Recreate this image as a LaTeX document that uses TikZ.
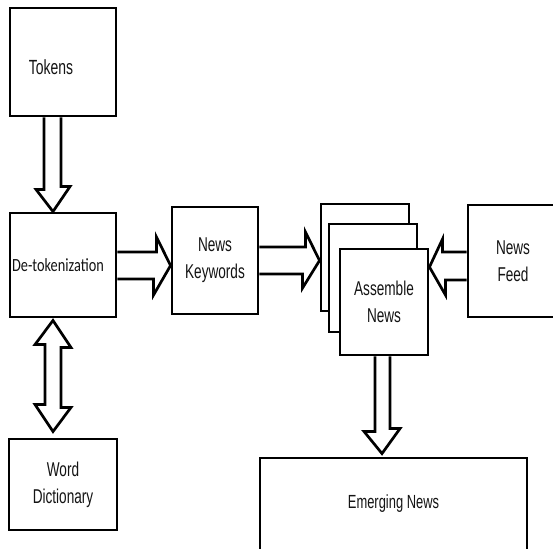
\documentclass[tikz,border=0pt]{standalone}
\usepackage{fontspec}
\setmainfont{Liberation Sans}[FakeStretch=0.68]
\newfontfamily\calfont{Carlito}[FakeStretch=0.77]
\begin{document}
\begin{tikzpicture}[x=1pt,y=-1pt,
  box/.style={draw, line width=2.9pt, fill=white, inner sep=0pt, align=center,
    font=\fontsize{20pt}{27pt}\selectfont, text=black!92},
  blk/.style={draw, line width=2.7pt, line join=miter}]
\clip (0,0) rectangle (553,548);
\useasboundingbox (0,0) rectangle (553,548);

% boxes
\node[box, minimum width=106pt, minimum height=108pt,
  label={[font=\fontsize{20.5pt}{27pt}\selectfont, text=black!92, xshift=-12pt, yshift=-5pt]center:Tokens}] (tok) at (63,62) {};
\node[box, minimum width=106pt, minimum height=104pt,
  label={[font=\calfont\fontsize{18.6pt}{24pt}\selectfont, text=black!92, xshift=-5pt]center:De-tokenization}] (det) at (63,265) {};
\node[box, minimum width=86pt, minimum height=107pt] (kw) at (215,260.5) {News\\Keywords};
\node[box, minimum width=88pt, minimum height=107pt] (back) at (365,257.5) {};
\node[box, minimum width=88pt, minimum height=108pt] (mid) at (373,278) {};
\node[box, minimum width=88pt, minimum height=106pt] (front) at (384,302) {Assemble\\News};
\node[box, minimum width=90pt, minimum height=112pt] (feed) at (513,261) {News\\Feed};
\node[box, minimum width=267pt, minimum height=92pt, font=\fontsize{19pt}{24pt}\selectfont] (emg) at (393.5,504) {Emerging News};
\node[box, minimum width=108pt, minimum height=91pt] (dict) at (63,484.5) {Word\\Dictionary};

% block arrows
\draw[blk] ([xshift=-19pt]tok.south) -- ++(0,72) -- ++(-8,0) -- ([xshift=-10pt]det.north)
  -- ++(17,-25) -- ++(-9,0) -- ([xshift=-2pt]tok.south);
\draw[blk] ([yshift=13pt]det.east) -- ++(39,0) -- ++(0,-15) -- ([yshift=-5pt]kw.west)
  -- ++(-17,29.5) -- ++(0,-16) -- ([yshift=-14pt]det.east);
\draw[blk] ([yshift=13.5pt]kw.east) -- ++(46,0) -- ++(0,-15) -- ([yshift=-3pt]back.west)
  -- ++(-17,27.5) -- ++(0,-14) -- ([yshift=-13.5pt]kw.east);
\draw[blk] ([yshift=9pt]feed.west) -- ++(-24,0) -- ++(0,-13) -- ([yshift=35pt]front.east)
  -- ++(16,28) -- ++(0,-15) -- ([yshift=-19pt]feed.west);
\draw[blk] ([xshift=-9pt]front.south) -- ++(0,75) -- ++(-11,0) -- ([xshift=-11.5pt,yshift=3pt]emg.north)
  -- ++(18,-25) -- ++(-10,0) -- ([xshift=6pt]front.south);
\draw[blk] ([xshift=-10pt,yshift=-2pt]det.south) -- ++(18,27) -- ++(-10,0) -- ++(0,60) -- ++(10,0)
  -- ([xshift=-10pt,yshift=6pt]dict.north) -- ++(-18,-27) -- ++(10,0) -- ++(0,-60) -- ++(-10,0) -- cycle;
\end{tikzpicture}
\end{document}
